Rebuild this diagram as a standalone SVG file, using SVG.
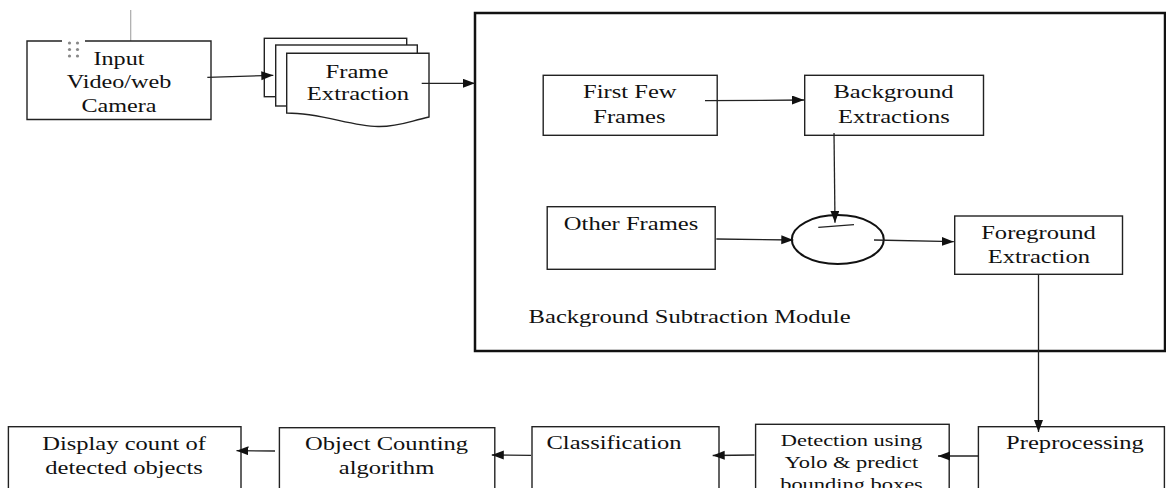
<svg xmlns="http://www.w3.org/2000/svg" width="1166" height="488" viewBox="0 0 1166 488">
<style>
.box{fill:#fff;stroke:#222;stroke-width:1.4}
.t{font-family:"Liberation Serif","Times New Roman",serif;font-size:19.5px;fill:#111;text-anchor:middle}
.s{font-size:17px}
.ln{fill:none;stroke:#222;stroke-width:1.3}
</style>
<defs>
<marker id="ah" markerUnits="userSpaceOnUse" markerWidth="13" markerHeight="10" refX="12" refY="4.5" orient="auto">
<path d="M0,0 L12,4.5 L0,9 Z" fill="#111"/>
</marker>
</defs>
<rect width="1166" height="488" fill="#fff"/>

<g id="input">
<line x1="130.7" y1="10" x2="130.7" y2="41" stroke="#aaa" stroke-width="1.2"/>
<path d="M62,41 H27 V119.5 H211 V41 H85" class="box"/>
<g fill="#888">
<circle cx="69.5" cy="43" r="1.6"/><circle cx="77.5" cy="43" r="1.6"/>
<circle cx="69.5" cy="49.5" r="1.6"/><circle cx="77.5" cy="49.5" r="1.6"/>
<circle cx="69.5" cy="56" r="1.6"/><circle cx="77.5" cy="56" r="1.6"/>
</g>
<text class="t" x="0" y="65" transform="matrix(1.24 0 0 1 119 0)">Input</text>
<text class="t" x="0" y="88.3" transform="matrix(1.24 0 0 1 119 0)">Video/web</text>
<text class="t" x="0" y="111.7" transform="matrix(1.24 0 0 1 119 0)">Camera</text>
</g>

<g id="frame-extraction">
<rect x="264.3" y="38.3" width="142.4" height="58.4" class="box"/>
<rect x="275.7" y="45" width="141.6" height="61" class="box"/>
<path d="M286.7,53.3 H429 V117 C410,121 398,127 378,126.5 C350,126 322,113 286.7,113 Z" class="box"/>
<text class="t" x="0" y="78.3" transform="matrix(1.26 0 0 1 357 0)">Frame</text>
<text class="t" x="0" y="100" transform="matrix(1.26 0 0 1 358 0)">Extraction</text>
</g>

<g id="bg-module">
<rect x="475" y="13" width="690" height="338" fill="none" stroke="#111" stroke-width="2.5"/>
<text class="t" x="0" y="323.3" style="text-anchor:start" transform="matrix(1.26 0 0 1 528.6 0)">Background Subtraction Module</text>
</g>

<g id="first-few">
<rect x="543.2" y="75.3" width="174" height="60" class="box"/>
<text class="t" x="0" y="98.3" transform="matrix(1.26 0 0 1 629.8 0)">First Few</text>
<text class="t" x="0" y="122.7" transform="matrix(1.26 0 0 1 629.4 0)">Frames</text>
</g>

<g id="bg-extractions">
<rect x="804.7" y="75.3" width="178.8" height="60" class="box"/>
<text class="t" x="0" y="98.3" transform="matrix(1.26 0 0 1 893.5 0)">Background</text>
<text class="t" x="0" y="122.7" transform="matrix(1.26 0 0 1 893.8 0)">Extractions</text>
</g>

<g id="other-frames">
<rect x="547.2" y="206.7" width="168" height="62.6" class="box"/>
<text class="t" x="0" y="230" transform="matrix(1.26 0 0 1 631 0)">Other Frames</text>
</g>

<g id="subtract">
<ellipse cx="837.8" cy="239.6" rx="46" ry="24.5" fill="#fff" stroke="#111" stroke-width="2"/>
<line x1="818.3" y1="227.3" x2="854" y2="224.7" stroke="#222" stroke-width="1.3"/>
</g>

<g id="foreground">
<rect x="954.7" y="216" width="167.8" height="58.3" class="box"/>
<text class="t" x="0" y="239.3" transform="matrix(1.26 0 0 1 1038.5 0)">Foreground</text>
<text class="t" x="0" y="263.3" transform="matrix(1.26 0 0 1 1038.8 0)">Extraction</text>
</g>

<g id="preprocessing">
<rect x="978.4" y="426.7" width="186" height="80" class="box"/>
<text class="t" x="0" y="449.5" transform="matrix(1.26 0 0 1 1075 0)">Preprocessing</text>
</g>

<g id="detection">
<rect x="755.6" y="424.3" width="193.6" height="80" class="box"/>
<text class="t s" x="0" y="446" transform="matrix(1.32 0 0 1 851.5 0)">Detection using</text>
<text class="t s" x="0" y="468" transform="matrix(1.32 0 0 1 851.5 0)">Yolo &amp; predict</text>
<text class="t s" x="0" y="490" transform="matrix(1.32 0 0 1 851.5 0)">bounding boxes</text>
</g>

<g id="classification">
<rect x="532" y="426.7" width="187" height="80" class="box"/>
<text class="t" x="0" y="449.3" transform="matrix(1.26 0 0 1 614 0)">Classification</text>
</g>

<g id="object-counting">
<rect x="279.4" y="427.7" width="215.4" height="80" class="box"/>
<text class="t" x="0" y="450" transform="matrix(1.26 0 0 1 386.6 0)">Object Counting</text>
<text class="t" x="0" y="474" transform="matrix(1.26 0 0 1 386.5 0)">algorithm</text>
</g>

<g id="display">
<rect x="8.4" y="426.7" width="232.6" height="80" class="box"/>
<text class="t" x="0" y="450" transform="matrix(1.26 0 0 1 124 0)">Display count of</text>
<text class="t" x="0" y="474" transform="matrix(1.26 0 0 1 124 0)">detected objects</text>
</g>

<g id="connectors">
<line x1="207.3" y1="77.3" x2="273.3" y2="75.3" class="ln" marker-end="url(#ah)"/>
<line x1="421.7" y1="83.3" x2="475" y2="83.3" class="ln" marker-end="url(#ah)"/>
<line x1="705" y1="100.7" x2="804" y2="100" class="ln" marker-end="url(#ah)"/>
<line x1="834" y1="133" x2="835" y2="222.7" class="ln" marker-end="url(#ah)"/>
<line x1="716.3" y1="239" x2="793.3" y2="240" class="ln" marker-end="url(#ah)"/>
<line x1="874" y1="240" x2="953.8" y2="241.7" class="ln" marker-end="url(#ah)"/>
<line x1="1038.5" y1="274.3" x2="1038.5" y2="432" class="ln" marker-end="url(#ah)"/>
<line x1="978.4" y1="456" x2="938" y2="456" class="ln" marker-end="url(#ah)"/>
<line x1="754.5" y1="455" x2="712.7" y2="455.5" class="ln" marker-end="url(#ah)"/>
<line x1="531" y1="455.3" x2="491.8" y2="455" class="ln" marker-end="url(#ah)"/>
<line x1="275" y1="451" x2="236.5" y2="450.7" class="ln" marker-end="url(#ah)"/>
</g>
</svg>
